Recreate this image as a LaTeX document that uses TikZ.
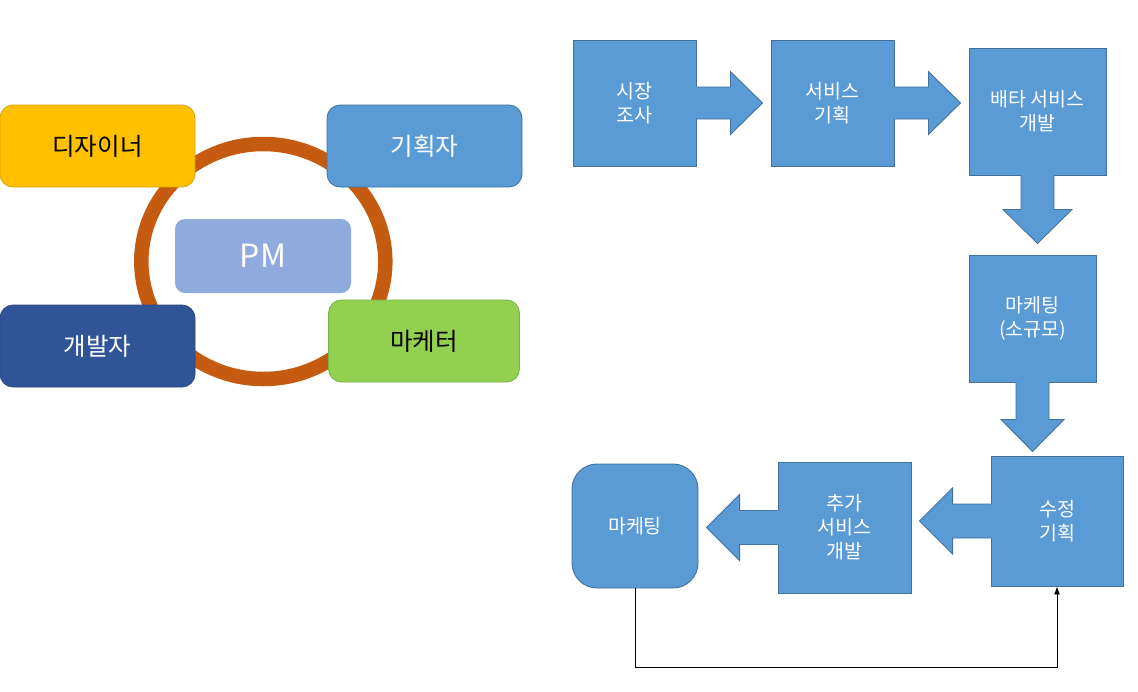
\documentclass[tikz,border=0pt]{standalone}
\usepackage{fontspec}
\newfontfamily\kr{Noto Sans CJK KR}
\usetikzlibrary{calc,arrows.meta}
\definecolor{cyellow}{HTML}{FFC000}
\definecolor{cblue}{HTML}{5B9BD5}
\definecolor{cblueline}{HTML}{41719C}
\definecolor{cdark}{HTML}{2F5597}
\definecolor{cgreen}{HTML}{92D050}
\definecolor{cpm}{HTML}{8FAADC}
\definecolor{cring}{HTML}{C55A11}
\tikzset{
  rolebox/.style={rounded corners=13pt, inner sep=0pt, minimum width=195pt, minimum height=82pt,
    font=\kr\fontsize{24.5}{29}\selectfont, line width=0.8pt},
  stepbox/.style={fill=cblue, draw=cblueline, line width=0.9pt, inner sep=0pt, align=center,
    text=white, font=\kr\fontsize{19.5}{24}\selectfont},
  arrfill/.style={fill=cblue},
  arrline/.style={draw=cblueline, line width=0.9pt, line join=miter},
  loopline/.style={draw=black, line width=0.9pt, -{Latex[length=8pt,width=6pt]}}
}
\newcommand\blockarr[6]{%
  \begin{scope}[shift={(#1)}, rotate=#2]
    \fill[arrfill] (-1.5,-#4) -- (#3,-#4) -- (#3,-#6) -- ({#3+#5},0) -- (#3,#6) -- (#3,#4) -- (-1.5,#4) -- cycle;
    \draw[arrline] (0,-#4) -- (#3,-#4) -- (#3,-#6) -- ({#3+#5},0) -- (#3,#6) -- (#3,#4) -- (0,#4);
  \end{scope}}
\begin{document}
\begin{tikzpicture}[x=1pt,y=-1pt]
\useasboundingbox (0,0) rectangle (1138,691);
% ring
\draw[cring, line width=14.5pt] (263.3,261.5) ellipse [x radius=122, y radius=117.5];
% role boxes
\node[rolebox, fill=cyellow, draw=cyellow!85!black, text=black] (des) at (97.5,146) {디자이너};
\node[rolebox, fill=cblue, draw=cblueline, text=white] (plan) at (424.5,146) {기획자};
\node[rolebox, fill=cdark, draw=cdark!85!black, text=white] (dev) at (97.5,346) {개발자};
\node[rolebox, fill=cgreen, draw=cgreen!85!black, text=black, minimum width=191pt] (mkt) at (424,341) {마케터};
\node[rounded corners=10pt, fill=cpm, inner sep=0pt, minimum width=176pt, minimum height=74pt,
  text=white, font=\kr\fontsize{32}{36}\selectfont] (pm) at (263,256) {PM};
% process boxes
\node[stepbox, minimum width=123pt, minimum height=126pt] (b1) at (634.5,103) {시장\\조사};
\node[stepbox, minimum width=123pt, minimum height=126pt] (b2) at (832.5,103) {서비스\\기획};
\node[stepbox, minimum width=137pt, minimum height=127pt] (b3) at (1037.5,111.5) {배타 서비스\\개발};
\node[stepbox, minimum width=127pt, minimum height=127pt] (b4) at (1032.5,318.5) {마케팅\\(소규모)};
\node[stepbox, minimum width=132pt, minimum height=130pt] (b5) at (1057,521) {수정\\기획};
\node[stepbox, minimum width=133pt, minimum height=131pt] (b6) at (844.5,527.5) {추가\\서비스\\개발};
\node[stepbox, rounded corners=25pt, minimum width=126pt, minimum height=124pt] (mk) at (635,526) {마케팅};
% block arrows
\blockarr{b1.east}{0}{34}{16}{32}{31.5}
\blockarr{b2.east}{0}{34}{16}{32}{31.5}
\blockarr{b3.south}{-90}{34}{16.5}{34}{34.5}
\blockarr{b4.south}{-90}{37}{16.5}{32}{31.5}
\blockarr{b5.west}{180}{38}{17}{33}{33}
\blockarr{b6.west}{180}{38}{17}{33}{33}
% loop connector
\draw[loopline] (mk.south) -- ++(0,79) -| (b5.south);
\end{tikzpicture}
\end{document}
